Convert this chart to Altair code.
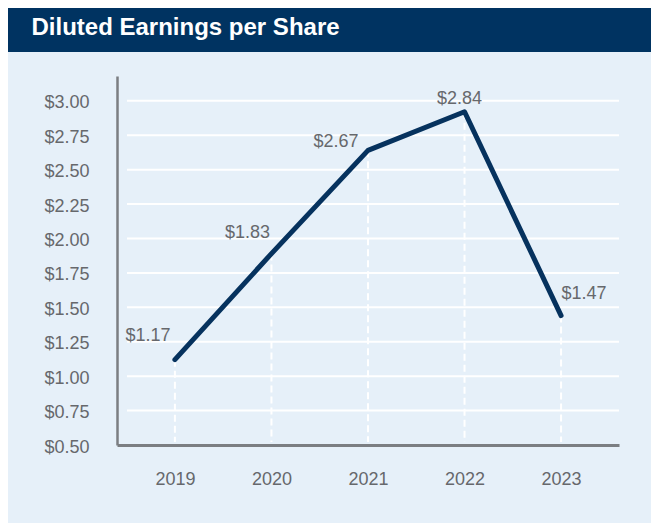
import altair as alt
import pandas as pd

# ---- data ----
years = ["2019", "2020", "2021", "2022", "2023"]
eps_plot = [1.12, 1.89, 2.64, 2.92, 1.44]          # where the line vertices are drawn
eps_labels = ["$1.17", "$1.83", "$2.67", "$2.84", "$1.47"]
y_ticks = [0.50, 0.75, 1.00, 1.25, 1.50, 1.75, 2.00, 2.25, 2.50, 2.75, 3.00]
grid_values = [0.75, 1.00, 1.25, 1.50, 1.75, 2.00, 2.25, 2.50, 2.75, 3.00]
title_text = "Diluted Earnings per Share"

# ---- styling ----
label_dx = [-27, -24, -32, -5, 23]
label_dy = [-19, -16, -3, -8, -17]
W, H = 502, 369
PAD = {"left": 109, "top": 68, "right": 32, "bottom": 78}
FONT = "Liberation Sans"
NAVY = "#003361"
PANEL = "#e6f0f9"
LINE = "#06325e"
GRAY_TXT = "#66686c"
AXIS_GRAY = "#7b7e82"

df = pd.DataFrame({"year": years, "eps": eps_plot, "label": eps_labels})
grid_df = pd.DataFrame({"eps": grid_values})

x_enc = alt.X(
    "year:O",
    scale=alt.Scale(type="point", padding=0.6),
    axis=alt.Axis(
        title=None, ticks=False, grid=False, labelAngle=0,
        labelFontSize=18, labelFont=FONT, labelColor=GRAY_TXT,
        labelPadding=25, domainColor=AXIS_GRAY, domainWidth=3,
    ),
)
y_enc = alt.Y(
    "eps:Q",
    scale=alt.Scale(domain=[0.5, 3.18], nice=False, zero=False),
    axis=alt.Axis(
        title=None, ticks=False, grid=False, values=y_ticks, format="$.2f",
        labelFontSize=18, labelFont=FONT, labelColor=GRAY_TXT,
        labelPadding=28, labelOffset=2, domainColor=AXIS_GRAY, domainWidth=2.5,
    ),
)

grid = alt.Chart(grid_df).mark_rule(color="white", strokeWidth=2).encode(
    x=alt.value(10), x2=alt.value(W), y=y_enc
)

drops = alt.Chart(df).mark_rule(color="white", strokeWidth=2, strokeDash=[7, 4]).encode(
    x=x_enc, y=y_enc, y2=alt.value(H - 3)
)

line = alt.Chart(df).mark_line(
    color=LINE, strokeWidth=5, strokeCap="round", strokeJoin="round"
).encode(x=x_enc, y=y_enc)

labels = []
for i, lab in enumerate(eps_labels):
    labels.append(
        alt.Chart(df).transform_filter(alt.datum.label == lab).mark_text(
            font=FONT, fontSize=18, color=GRAY_TXT, align="center",
            baseline="alphabetic", dx=label_dx[i], dy=label_dy[i]
        ).encode(x=x_enc, y=y_enc, text="label:N")
    )

head_df = pd.DataFrame({"t": [title_text]})
header = alt.Chart(head_df).mark_rect(color=NAVY).encode(
    x=alt.value(-PAD["left"]), x2=alt.value(W + PAD["right"]),
    y=alt.value(-PAD["top"]), y2=alt.value(-24)
)
title = alt.Chart(head_df).mark_text(
    font=FONT, fontSize=24, fontWeight="bold", color="white",
    align="left", baseline="alphabetic"
).encode(text="t:N", x=alt.value(-85.5), y=alt.value(-41))

chart = alt.layer(header, title, grid, drops, line, *labels).properties(
    width=W, height=H,
    autosize=alt.AutoSizeParams(type="none"),
    padding=PAD,
    background=PANEL,
).configure_view(stroke=None)

chart.save("out.html", embed_options={"renderer": "svg", "actions": False})
